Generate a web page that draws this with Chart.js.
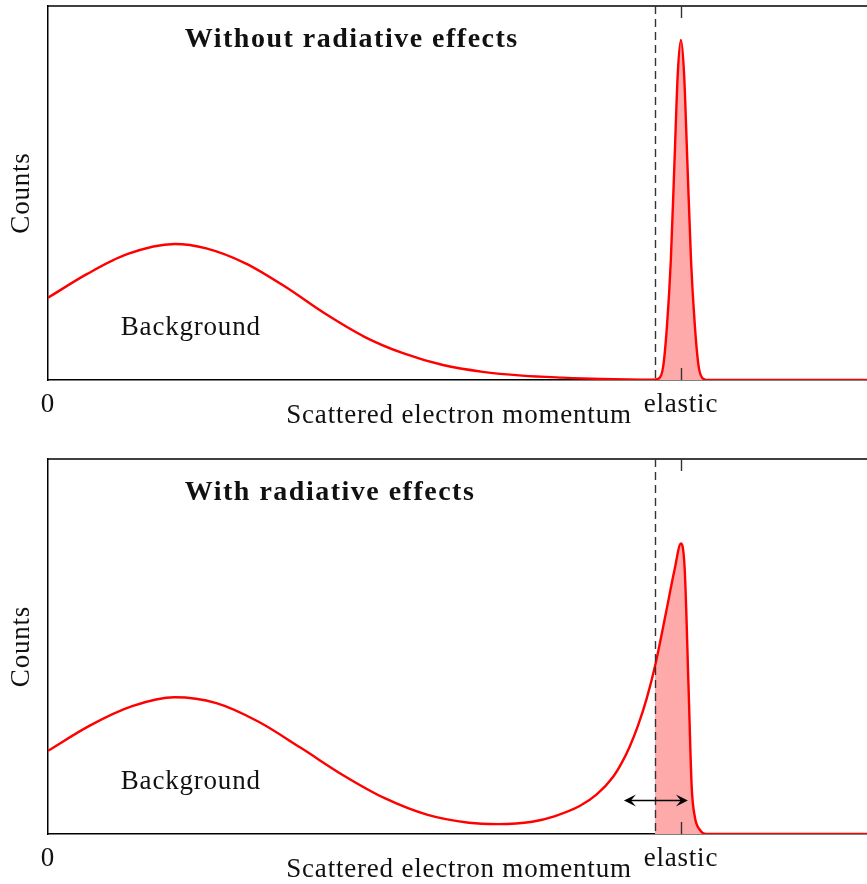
<!DOCTYPE html>
<html>
<head>
<meta charset="utf-8">
<script src="https://cdn.jsdelivr.net/npm/chart.js@4"></script>
<style>
  html, body { margin: 0; padding: 0; background: #fff; overflow: hidden; }
  .panel { position: absolute; left: 0; }
</style>
</head>
<body>
<div class="panel" style="top:0px"><canvas id="top" width="867" height="442"></canvas></div>
<div class="panel" style="top:453px"><canvas id="bottom" width="867" height="431"></canvas></div>
<script>
// scattered electron momentum (elastic = 1) and counts
const topX = [0, 0.062, 0.125, 0.2, 0.25, 0.312, 0.375, 0.437, 0.5, 0.562, 0.624, 0.687, 0.749, 0.812, 0.874, 0.955,
  0.965, 0.972, 0.978, 0.984, 0.99, 0.995, 1.0, 1.005, 1.01, 1.016, 1.022, 1.028, 1.035, 1.045, 1.3];
const topY = [0.242, 0.312, 0.37, 0.4, 0.387, 0.343, 0.274, 0.196, 0.127, 0.078, 0.044, 0.024, 0.013, 0.007, 0.003, 0.001,
  0.004, 0.04, 0.16, 0.35, 0.65, 0.9, 1.0, 0.9, 0.65, 0.35, 0.16, 0.04, 0.004, 0, 0];

const botX = [0, 0.066, 0.133, 0.2, 0.266, 0.332, 0.4, 0.465, 0.532, 0.6, 0.665, 0.711, 0.765, 0.8, 0.84, 0.867, 0.893,
  0.906, 0.919, 0.932, 0.946, 0.959, 0.977, 0.99, 1.0, 1.006, 1.012, 1.017, 1.022, 1.03, 1.04, 1.3];
const botY = [0.244, 0.318, 0.375, 0.401, 0.384, 0.33, 0.252, 0.174, 0.105, 0.056, 0.033, 0.029, 0.036, 0.052, 0.082, 0.116, 0.168,
  0.207, 0.256, 0.317, 0.398, 0.492, 0.655, 0.776, 0.852, 0.776, 0.434, 0.139, 0.05, 0.012, 0, 0];

const cutX = 0.959;          // dashed acceptance cut
const tickValues = [0, 1];
const tickLabels = ["0", "elastic"];
const arrowX = [0.91, 1.011];
const arrowY = 0.1;

const SERIF = "'Liberation Serif', 'DejaVu Serif', serif";

function pts(xs, ys, from = -Infinity) {
  return xs.map((x, i) => ({ x, y: ys[i] })).filter(p => p.x >= from);
}

const decor = {
  id: "decor",
  afterDatasetsDraw(chart, args, o) {
    const { ctx, chartArea: a, scales: { x, y } } = chart;
    ctx.save();
    // top frame
    ctx.strokeStyle = "#000"; ctx.lineWidth = 1.5;
    ctx.beginPath(); ctx.moveTo(a.left - 0.75, a.top); ctx.lineTo(a.right, a.top); ctx.stroke();
    // cut line
    const cx = Math.round(x.getPixelForValue(cutX)) + 0.5;
    ctx.strokeStyle = "#333"; ctx.lineWidth = 1.4; ctx.setLineDash([8, 5]);
    ctx.beginPath(); ctx.moveTo(cx, a.top); ctx.lineTo(cx, a.bottom); ctx.stroke();
    ctx.setLineDash([]);
    // elastic tick marks, inside the frame
    const ex = Math.round(x.getPixelForValue(tickValues[1])) + 0.5;
    ctx.beginPath();
    ctx.moveTo(ex, a.top); ctx.lineTo(ex, a.top + 12);
    ctx.moveTo(ex, a.bottom); ctx.lineTo(ex, a.bottom - 12);
    ctx.stroke();
    // resolution arrow
    if (o.arrow) {
      const x0 = x.getPixelForValue(arrowX[0]), x1 = x.getPixelForValue(arrowX[1]);
      const ay = Math.round(y.getPixelForValue(arrowY)) + 0.5;
      ctx.strokeStyle = "#000"; ctx.lineWidth = 1.4;
      ctx.beginPath(); ctx.moveTo(x0 + 3, ay); ctx.lineTo(x1 - 3, ay); ctx.stroke();
      ctx.fillStyle = "#000";
      [[x0, 1], [x1, -1]].forEach(([px, d]) => {
        ctx.beginPath();
        ctx.moveTo(px, ay);
        ctx.lineTo(px + d * 12, ay - 6);
        ctx.lineTo(px + d * 7, ay);
        ctx.lineTo(px + d * 12, ay + 6);
        ctx.closePath(); ctx.fill();
      });
    }
    // labels
    ctx.fillStyle = "#111"; ctx.textBaseline = "middle";
    ctx.letterSpacing = "1.5px";
    ctx.font = "bold 28px " + SERIF; ctx.textAlign = "left";
    ctx.fillText(o.title, x.getPixelForValue(0.216), y.getPixelForValue(1.0));
    ctx.font = "27px " + SERIF;
    ctx.letterSpacing = "0.8px";
    ctx.fillText("Background", x.getPixelForValue(0.115), y.getPixelForValue(0.154));
    ctx.textAlign = "center";
    tickValues.forEach((v, i) => ctx.fillText(tickLabels[i], x.getPixelForValue(v), a.bottom + 25));
    ctx.fillText("Scattered electron momentum", 459, a.bottom + 36);
    ctx.translate(22, (a.top + a.bottom) / 2);
    ctx.rotate(-Math.PI / 2);
    ctx.fillText("Counts", 0, 0);
    ctx.restore();
  }
};

function panel(id, xs, ys, title, arrow, padBottom) {
  return new Chart(document.getElementById(id), {
    type: "line",
    data: {
      datasets: [
        { data: pts(xs, ys), borderColor: "#ff0000", borderWidth: 2.4, fill: false, order: 1 },
        { data: pts(xs, ys, cutX - 0.0001), borderWidth: 0, borderColor: "transparent",
          backgroundColor: "#ffaaaa", fill: "origin", order: 2 }
      ]
    },
    options: {
      responsive: false, animation: false, devicePixelRatio: 1,
      layout: { padding: { left: 48, top: 6, right: 0, bottom: padBottom } },
      elements: { point: { radius: 0 }, line: { cubicInterpolationMode: "monotone" } },
      scales: {
        x: { type: "linear", min: 0, max: 1.294, grid: { display: false }, ticks: { display: false },
             border: { display: true, color: "#000", width: 1.5 }, afterFit: s => { s.height = 0; } },
        y: { min: 0, max: 1.1, grid: { display: false }, ticks: { display: false },
             border: { display: true, color: "#000", width: 1.5 }, afterFit: s => { s.width = 0; } }
      },
      plugins: { legend: { display: false }, tooltip: { enabled: false }, decor: { title, arrow } }
    },
    plugins: [decor]
  });
}

panel("top", topX, topY, "Without radiative effects", false, 62);
panel("bottom", botX, botY, "With radiative effects", true, 50);
</script>
</body>
</html>
